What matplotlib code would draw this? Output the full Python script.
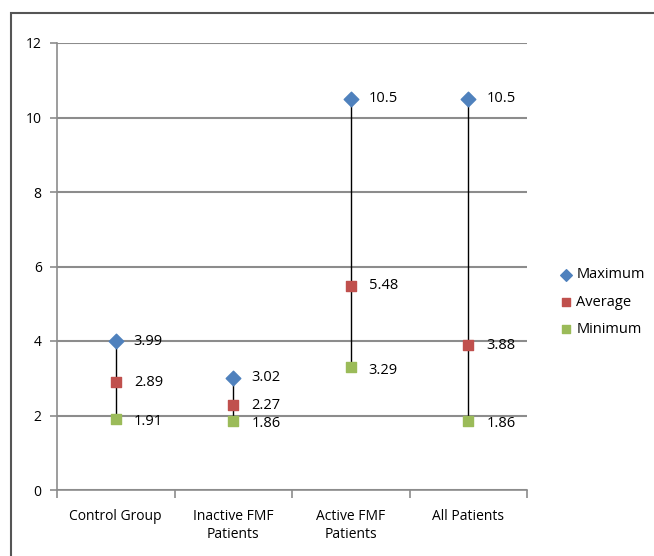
import matplotlib.pyplot as plt
import matplotlib.patches as mpatches
import numpy as np

plt.rcParams['font.family'] = ['Open Sans', 'DejaVu Sans']

# Data
groups = ["Control Group", "Inactive FMF\nPatients", "Active FMF\nPatients", "All Patients"]
maximum = [3.99, 3.02, 10.5, 10.5]
average = [2.89, 2.27, 5.48, 3.88]
minimum = [1.91, 1.86, 3.29, 1.86]
max_labels = ["3.99", "3.02", "10.5", "10.5"]
avg_labels = ["2.89", "2.27", "5.48", "3.88"]
min_labels = ["1.91", "1.86", "3.29", "1.86"]

blue = "#4F81BD"
red = "#C0504D"
green = "#9BBB59"
grid = "#8C8C8C"

fig = plt.figure(figsize=(6.54, 5.56), dpi=100)
ax = fig.add_axes([57/654, 1-490/556, (527-57)/654, (490-43)/556])

# outer frame like the Excel chart area
fig.patches.append(mpatches.Rectangle((11/654, -0.05), 1.0, 1-13/556+0.05,
                                      transform=fig.transFigure, fill=False,
                                      edgecolor="#555555", linewidth=1.5, zorder=0))

x = np.arange(len(groups))
ax.vlines(x, minimum, maximum, color="black", linewidth=1.0, zorder=2)
ax.scatter(x, maximum, marker="D", s=55, color=blue, zorder=3, label="Maximum")
ax.scatter(x, average, marker="s", s=55, color=red, zorder=3, label="Average")
ax.scatter(x, minimum, marker="s", s=55, color=green, zorder=3, label="Minimum")

for xi, v, t in zip(x, maximum, max_labels):
    ax.annotate(t, (xi, v), xytext=(13, 0), textcoords="offset points", va="center", fontsize=10.5)
for xi, v, t in zip(x, average, avg_labels):
    ax.annotate(t, (xi, v), xytext=(13, 0), textcoords="offset points", va="center", fontsize=10.5)
for xi, v, t in zip(x, minimum, min_labels):
    ax.annotate(t, (xi, v), xytext=(13, -2), textcoords="offset points", va="center", fontsize=10.5)

ax.set_xlim(-0.5, len(groups) - 0.5)
ax.set_ylim(0, 12)
ax.set_yticks(np.arange(0, 13, 2))
ax.set_xticks(x)
ax.set_xticklabels(groups, fontsize=10)
ax.set_xticks(np.arange(-0.5, len(groups), 1), minor=True)
ax.tick_params(axis="x", which="major", length=0, pad=14)
ax.tick_params(axis="x", which="minor", length=6, color=grid, width=1.2)
ax.tick_params(axis="y", length=5, color=grid, width=1.2, labelsize=10, pad=6)
ax.yaxis.grid(True, color=grid, linewidth=1.5)
ax.set_axisbelow(True)

for side in ["top", "right"]:
    ax.spines[side].set_visible(False)
for side in ["left", "bottom"]:
    ax.spines[side].set_color(grid)
    ax.spines[side].set_linewidth(1.2)

ax.legend(loc="center left", bbox_to_anchor=(1.04, 0.42), frameon=False,
          fontsize=10.5, handletextpad=0.2, labelspacing=0.85, handlelength=1.0,
          scatterpoints=1, markerscale=0.8)

fig.savefig("out.png", dpi=100)
